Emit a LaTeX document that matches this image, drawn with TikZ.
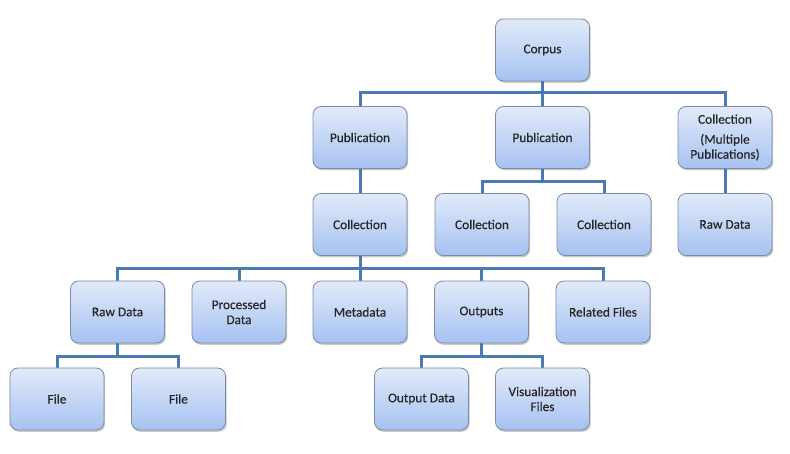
\documentclass[tikz,border=0pt]{standalone}
\usepackage{fontspec}
\setmainfont{Carlito}
\newfontfamily\boxfont{Carlito}[FakeBold=0.35]
\usetikzlibrary{shadows}
\definecolor{boxtop}{HTML}{E2EAF9}
\definecolor{boxbot}{HTML}{A6C2F2}
\definecolor{boxedge}{HTML}{7C8AA3}
\definecolor{connc}{HTML}{4A7AB4}
\tikzset{
  box/.style={draw=boxedge, line width=0.8bp, rounded corners=8bp,
    top color=boxtop, bottom color=boxbot,
    minimum width=94bp, minimum height=62bp, inner sep=0pt,
    align=center, text=black!85, font=\boxfont\fontsize{13.3bp}{15bp}\selectfont,
    drop shadow={shadow xshift=1.2bp, shadow yshift=-1.8bp, opacity=0.35, fill=black!60}},
  conn/.style={draw=connc, line width=3bp}
}
\begin{document}
\begin{tikzpicture}[x=1bp,y=-1bp]
\useasboundingbox (0,0) rectangle (790,454);
% coordinates for bars
\coordinate (b0) at (542.5,93);
\coordinate (b1) at (542.5,181.5);
\coordinate (b2) at (360,269);
\coordinate (b3) at (117.5,356.5);
\coordinate (b4) at (481.5,356.5);
% nodes (positions)
\path
 (542.5,50) coordinate (pcorpus)
 (360,137.5) coordinate (ppubA)
 (542.5,137.5) coordinate (ppubB)
 (725,137.5) coordinate (pcollM)
 (360,224.5) coordinate (pcollA)
 (482,224.5) coordinate (pcollB)
 (604,224.5) coordinate (pcollC)
 (725,224.5) coordinate (prawM)
 (117.5,312) coordinate (praw)
 (239,312) coordinate (pproc)
 (360,312) coordinate (pmeta)
 (481.5,312) coordinate (pout)
 (603,312) coordinate (prel)
 (57,399) coordinate (pfileA)
 (178.5,399) coordinate (pfileB)
 (421.5,399) coordinate (poutd)
 (542.5,399) coordinate (pviz);
% invisible placeholders for connector ends
\foreach \n in {corpus,pubA,pubB,collM,collA,collB,collC,rawM,raw,proc,meta,out,rel,fileA,fileB,outd,viz}
  \node[minimum width=94bp, minimum height=62bp, inner sep=0pt] (\n) at (p\n) {};
% connectors
\draw[conn] (corpus.south) -- (pubB.north);
\draw[conn] (pubA.north) |- (b0) -| (collM.north);
\draw[conn] (pubA.south) -- (collA.north);
\draw[conn] (pubB.south) -- (b1);
\draw[conn] (collB.north) |- (b1) -| (collC.north);
\draw[conn] (collM.south) -- (rawM.north);
\draw[conn] (collA.south) -- (meta.north);
\draw[conn] (raw.north) |- (b2) -| (rel.north);
\draw[conn] (proc.north) -- (proc.north |- b2);
\draw[conn] (out.north) -- (out.north |- b2);
\draw[conn] (raw.south) -- (b3);
\draw[conn] (fileA.north) |- (b3) -| (fileB.north);
\draw[conn] (out.south) -- (b4);
\draw[conn] (outd.north) |- (b4) -| (viz.north);
% boxes
\node[box] (corpusB) at (corpus) {Corpus};
\node[box] (pubAB) at (pubA) {Publication};
\node[box] (pubBB) at (pubB) {Publication};
\node[box] (collMB) at (collM) {Collection\\[5bp](Multiple\\Publications)};
\node[box] (collAB) at (collA) {Collection};
\node[box] (collBB) at (collB) {Collection};
\node[box] (collCB) at (collC) {Collection};
\node[box] (rawMB) at (rawM) {Raw Data};
\node[box] (rawB) at (raw) {Raw Data};
\node[box] (procB) at (proc) {Processed\\Data};
\node[box] (metaB) at (meta) {Metadata};
\node[box] (outB) at (out) {Outputs};
\node[box] (relB) at (rel) {Related Files};
\node[box] (fileAB) at (fileA) {File};
\node[box] (fileBB) at (fileB) {File};
\node[box] (outdB) at (outd) {Output Data};
\node[box] (vizB) at (viz) {Visualization\\Files};
\end{tikzpicture}
\end{document}
